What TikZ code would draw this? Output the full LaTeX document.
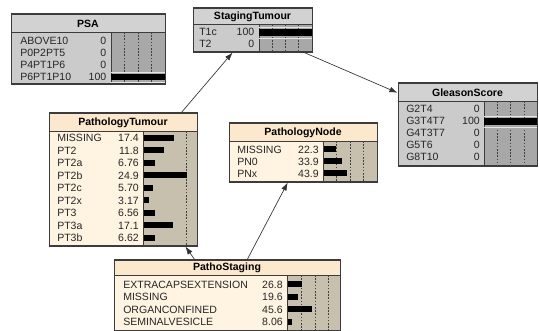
\documentclass[tikz,border=0pt]{standalone}
\usepackage{fontspec}
\setmainfont{Liberation Sans}
\usetikzlibrary{arrows.meta,calc}
\definecolor{gtitle}{HTML}{D2D2D2}
\definecolor{gbody}{HTML}{CBCBCB}
\definecolor{gbar}{HTML}{A8A8A8}
\definecolor{ctitle}{HTML}{FCE8CC}
\definecolor{cbody}{HTML}{FFF3E2}
\definecolor{cbar}{HTML}{C8C0AE}
\definecolor{edgec}{HTML}{3C3C3C}
\tikzset{
  boxframe/.style={draw=edgec, line width=0.75pt, inner sep=0pt, outer sep=0pt, rectangle},
  divline/.style={draw=edgec, line width=0.6pt},
  titletext/.style={font=\fontsize{7.9}{9}\selectfont\bfseries, inner sep=0pt, text=black},
  rowlabel/.style={font=\fontsize{7.9}{9}\selectfont, inner sep=0pt, anchor=west, text=black!85},
  rowvalue/.style={font=\fontsize{7.9}{9}\selectfont, inner sep=0pt, anchor=east, text=black!85},
  gridline/.style={draw=black!75, line width=0.4pt, dash pattern=on 1.2pt off 1.2pt},
  barfill/.style={fill=black},
  arr/.style={draw=black!80, line width=0.5pt, -{Latex[length=6pt,width=4.2pt]}, shorten >=0.5pt},
}
% #1 name, #2 left, #3 top, #4 right, #5 bottom, #6 title bottom, #7 bar x, #8 title, #9 scheme
\newcommand\mkbox[9]{%
  \fill[#9title] (#2,#3) rectangle (#4,#6);
  \fill[#9body] (#2,#6) rectangle (#7,#5);
  \fill[#9bar] (#7,#6) rectangle (#4,#5);
  \draw[divline] (#2,#6) -- (#4,#6);
  \draw[divline] (#7,#6) -- (#7,#5);
  \node[boxframe, anchor=north west, minimum width={(#4-#2)*0.75pt}, minimum height={(#5-#3)*0.75pt}] (#1) at (#2,#3) {};
  \node[titletext] (#1-title) at ({(#2+#4)/2},{(#3+#6)/2+0.5}) {#8};
}
% #1 node name, #2 label x, #3 value x, #4 y, #5 label, #6 value
\newcommand\mkrow[6]{%
  \node[rowlabel] (#1-l) at (#2,#4) {#5};
  \node[rowvalue] (#1-v) at (#3,#4) {#6};
}
% #1 x0, #2 y, #3 length
\newcommand\mkbar[3]{%
  \fill[barfill] (#1,{#2-3}) rectangle ({#1+#3},{#2+3});
}
\newcommand\fullbar[3]{%
  \draw[white!80!gray, line width=0.5pt] (#1,{#3-5}) -- (#2,{#3-5});
  \draw[white!80!gray, line width=0.5pt] (#1,{#3+5.5}) -- (#2,{#3+5.5});
  \fill[barfill] (#1,{#3-3.3}) rectangle (#2,{#3+3.3});
}
\begin{document}
\begin{tikzpicture}[x=0.75pt,y=-0.75pt]
\useasboundingbox (0,0) rectangle (539,331);
\fill[white] (0,0) rectangle (539,331);

% ---------- PSA ----------
\mkbox{psa}{11}{14}{165}{84}{32}{111}{PSA}{g}
\foreach \gx in {124.5,138,151.5} \draw[gridline] (\gx,32) -- (\gx,84);
\fullbar{111}{165}{77}
\mkrow{psa1}{20}{106.5}{40.5}{ABOVE10}{0}
\mkrow{psa2}{20}{106.5}{52.5}{P0P2PT5}{0}
\mkrow{psa3}{20}{106.5}{64.5}{P4PT1P6}{0}
\mkrow{psa4}{20}{106.5}{76.5}{P6PT1P10}{100}
\draw[divline] (psa.north west) rectangle (psa.south east);

% ---------- StagingTumour ----------
\mkbox{stag}{193}{8}{312}{52}{24}{259}{StagingTumour}{g}
\foreach \gx in {272.5,285.5,298.5} \draw[gridline] (\gx,24) -- (\gx,52);
\fullbar{259}{312}{32.5}
\mkrow{stag1}{199}{254.5}{31.5}{T1c}{100}
\mkrow{stag2}{199}{254.5}{43.5}{T2}{0}
\draw[divline] (stag.north west) rectangle (stag.south east);

% ---------- GleasonScore ----------
\mkbox{glea}{398}{83}{537}{166}{101}{484}{GleasonScore}{g}
\foreach \gx in {497,510.5,524} \draw[gridline] (\gx,101) -- (\gx,166);
\fullbar{484}{537}{121.5}
\mkrow{glea1}{406}{480}{109}{G2T4}{0}
\mkrow{glea2}{406}{480}{121}{G3T4T7}{100}
\mkrow{glea3}{406}{480}{133}{G4T3T7}{0}
\mkrow{glea4}{406}{480}{145}{G5T6}{0}
\mkrow{glea5}{406}{480}{157}{G8T10}{0}
\draw[divline] (glea.north west) rectangle (glea.south east);

% ---------- PathologyTumour ----------
\mkbox{ptum}{49}{113}{197}{246}{131}{143}{PathologyTumour}{c}
\draw[gridline] (186,131) -- (186,246);
\mkrow{ptum1}{57}{139}{138}{MISSING}{17.4}   \mkbar{143.5}{138}{30.1}
\mkrow{ptum2}{57}{139}{150.5}{PT2}{11.8}     \mkbar{143.5}{150.5}{20.4}
\mkrow{ptum3}{57}{139}{163}{PT2a}{6.76}      \mkbar{143.5}{163}{11.7}
\mkrow{ptum4}{57}{139}{175.5}{PT2b}{24.9}    \mkbar{143.5}{175.5}{43.1}
\mkrow{ptum5}{57}{139}{188}{PT2c}{5.70}      \mkbar{143.5}{188}{9.9}
\mkrow{ptum6}{57}{139}{200.5}{PT2x}{3.17}    \mkbar{143.5}{200.5}{5.5}
\mkrow{ptum7}{57}{139}{213}{PT3}{6.56}       \mkbar{143.5}{213}{11.3}
\mkrow{ptum8}{57}{139}{225.5}{PT3a}{17.1}    \mkbar{143.5}{225.5}{29.6}
\mkrow{ptum9}{57}{139}{238}{PT3b}{6.62}      \mkbar{143.5}{238}{11.5}
\draw[divline] (ptum.north west) rectangle (ptum.south east);

% ---------- PathologyNode ----------
\mkbox{pnode}{229}{123}{377}{182}{141}{323}{PathologyNode}{c}
\foreach \gx in {336.5,350,363.5} \draw[gridline] (\gx,141) -- (\gx,182);
\mkrow{pnode1}{237}{319}{149.5}{MISSING}{22.3}  \mkbar{323.5}{149.5}{12.0}
\mkrow{pnode2}{237}{319}{161.5}{PN0}{33.9}      \mkbar{323.5}{161.5}{18.3}
\mkrow{pnode3}{237}{319}{173.5}{PNx}{43.9}      \mkbar{323.5}{173.5}{23.7}
\draw[divline] (pnode.north west) rectangle (pnode.south east);

% ---------- PathoStaging ----------
\mkbox{pstag}{114}{260}{340}{330.5}{275}{287}{PathoStaging}{c}
\foreach \gx in {301.5,315,328.5} \draw[gridline] (\gx,275) -- (\gx,330.5);
\mkrow{pstag1}{123}{283}{284.5}{EXTRACAPSEXTENSION}{26.8}  \mkbar{287.5}{284.5}{14.5}
\mkrow{pstag2}{123}{283}{297}{MISSING}{19.6}               \mkbar{287.5}{297}{10.6}
\mkrow{pstag3}{123}{283}{309.5}{ORGANCONFINED}{45.6}       \mkbar{287.5}{309.5}{24.6}
\mkrow{pstag4}{123}{283}{322}{SEMINALVESICLE}{8.06}        \mkbar{287.5}{322}{4.4}
\draw[divline] (pstag.north west) rectangle (pstag.south east);

% ---------- connectors ----------
\draw[arr] ($(ptum.north west)+(132,0)$) -- ($(stag.south west)+(40,0)$);
\draw[arr] ($(stag.south west)+(110,0)$) -- ($(glea.north west)+(0,10)$);
\draw[arr] ($(pstag.north west)+(81,0)$) -- ($(ptum.south west)+(136,0)$);
\draw[arr] ($(pstag.north west)+(133,0)$) -- ($(pnode.south west)+(59,0)$);
\end{tikzpicture}
\end{document}
